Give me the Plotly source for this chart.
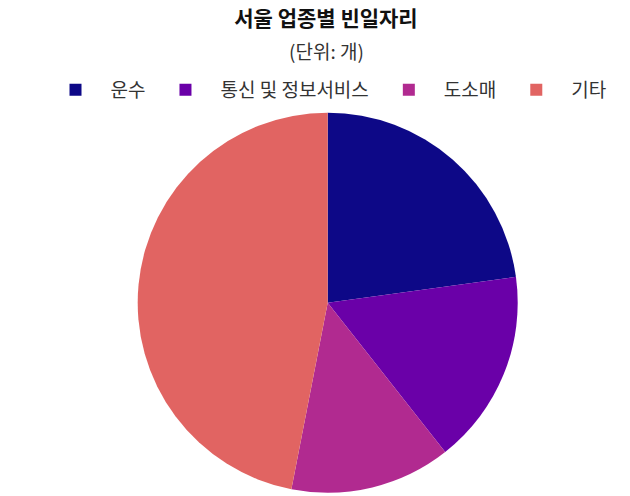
import plotly.graph_objects as go

# 서울 업종별 빈일자리 (단위: 개)
industries = ['운수', '통신 및 정보서비스', '도소매', '기타']
vacancies = [2283, 1656, 1367, 4694]
slice_colors = ['#0d0887', '#6a00a8', '#b12a90', '#e16462']

font_name = 'Noto Sans CJK KR, Noto Sans, sans-serif'
W, H = 630, 496

# pie centre / radius in pixels, turned into a paper domain
cx, cy, rad = 327.7, 302.7, 190

fig = go.Figure(go.Pie(
    labels=industries,
    values=vacancies,
    marker=dict(colors=slice_colors, line=dict(width=0)),
    sort=False,
    direction='clockwise',
    rotation=0,
    textinfo='none',
    domain=dict(x=[(cx - rad) / W, (cx + rad) / W],
                y=[(H - cy - rad) / H, (H - cy + rad) / H]),
    hovertemplate='%{label}: %{value:,}개<extra></extra>',
))

fig.update_layout(
    width=W,
    height=H,
    margin=dict(l=0, r=0, t=0, b=0),
    paper_bgcolor='white',
    plot_bgcolor='white',
    font=dict(family=font_name, color='#222'),
    title=dict(
        text='<b>서울 업종별 빈일자리</b>',
        x=326 / W, xanchor='center',
        yref='container', y=1 - 19 / H, yanchor='middle',
        font=dict(size=21, color='#111'),
    ),
    annotations=[dict(
        text='(단위: 개)',
        x=326 / W, xref='paper', xanchor='center',
        y=1 - 50 / H, yref='paper', yanchor='middle',
        showarrow=False,
        font=dict(size=19, color='#333'),
    )],
    legend=dict(
        orientation='h',
        x=326 / W, xanchor='center',
        y=1 - 90 / H, yanchor='middle',
        font=dict(size=19, color='#333'),
        itemwidth=60,
    ),
)

# drop the default 8px page margin so the figure sits at the window corner
fig.write_html('out.html', config={'displayModeBar': False},
               post_script="document.body.style.margin='0';")
